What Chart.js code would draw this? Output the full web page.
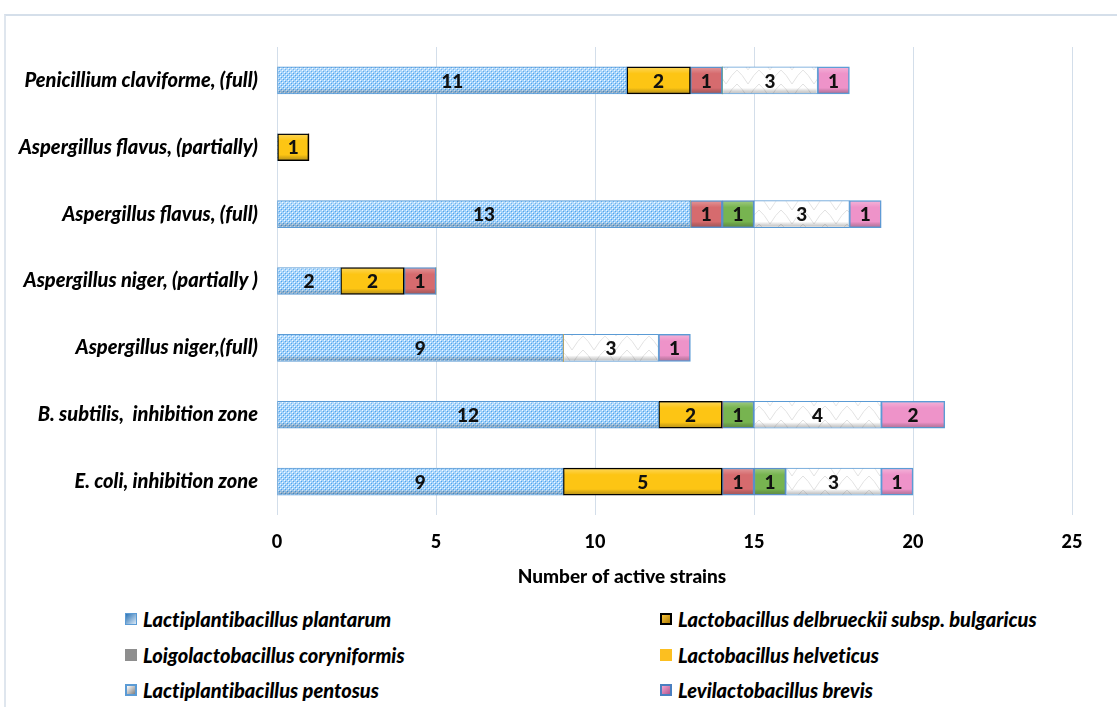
<!DOCTYPE html>
<html>
<head>
<meta charset="utf-8">
<script src="https://cdn.jsdelivr.net/npm/chart.js@4"></script>
<style>
  body { margin: 0; background: #fff; }
  #wrap { position: relative; width: 1117px; height: 707px; overflow: hidden; }
  #frame { position: absolute; left: 4px; top: 14px; right: -4px; bottom: -4px;
           border-top: 2px solid #d5dfea; border-left: 2px solid #dfe6ee; }
  #chart { position: absolute; left: 0; top: 0; }
  #legend { position: absolute; left: 0; top: 0; font: italic 900 20px Lato, sans-serif; color: #000;
            font-variant-ligatures: none; }
  .item { position: absolute; white-space: nowrap; display: flex; align-items: center; height: 24px; }
  .box { width: 12px; height: 12px; margin-right: 6px; box-sizing: border-box; }
</style>
</head>
<body>
<div id="wrap">
  <div id="frame"></div>
  <canvas id="chart" width="1117" height="600"></canvas>
  <div id="legend"></div>
</div>
<script>
// categories, top to bottom
const categories = [
  'Penicillium claviforme, (full)',
  'Aspergillus flavus, (partially)',
  'Aspergillus flavus, (full)',
  'Aspergillus niger, (partially )',
  'Aspergillus niger,(full)',
  'B. subtilis,  inhibition zone',
  'E. coli, inhibition zone'
];

const seriesNames = [
  'Lactiplantibacillus plantarum',
  'Lactobacillus delbrueckii subsp. bulgaricus',
  'Loigolactobacillus coryniformis',
  'Lactobacillus helveticus',
  'Lactiplantibacillus pentosus',
  'Levilactobacillus brevis'
];

const plantarum    = [11, 0, 13, 2, 9, 12, 9];
const delbrueckii  = [2, 1, 0, 2, 0, 2, 5];
const coryniformis = [1, 0, 1, 1, 0, 0, 1];
const helveticus   = [0, 0, 1, 0, 0, 1, 1];
const pentosus     = [3, 0, 3, 0, 3, 4, 3];
const brevis       = [1, 0, 1, 0, 1, 2, 1];

const xTicks = [0, 5, 10, 15, 20, 25];
const xTitle = 'Number of active strains';

// fill textures
function makePattern(w, h, draw) {
  const c = document.createElement('canvas');
  c.width = w; c.height = h;
  draw(c.getContext('2d'));
  return c.getContext('2d').createPattern(c, 'repeat');
}
const bluePattern = makePattern(4, 4, g => {
  g.fillStyle = '#a2d2fb'; g.fillRect(0, 0, 4, 4);
  g.fillStyle = '#f2f9ff'; g.fillRect(0, 0, 1, 1); g.fillRect(2, 2, 1, 1);
  g.fillStyle = '#4fa3ec'; g.fillRect(1, 1, 1, 1); g.fillRect(3, 3, 1, 1);
});
const whitePattern = makePattern(22, 14, g => {
  g.fillStyle = '#ffffff'; g.fillRect(0, 0, 22, 14);
  g.strokeStyle = '#e2e2e2'; g.lineWidth = 1;
  g.beginPath();
  g.moveTo(0, 14); g.quadraticCurveTo(6, 4, 11, 0);
  g.moveTo(11, 0); g.quadraticCurveTo(16, 4, 22, 14);
  g.stroke();
});

const fills   = [bluePattern, '#fdc514', '#d66b6e', '#77b450', whitePattern, '#ee93c9'];
const borders = ['#5b9bd5', '#000000', '#5b8fc9', '#5b8fc9', '#5b9bd5', '#5b9bd5'];
const widths  = [1, 1.5, 1.5, 1.5, 1, 1.5];
const values  = [plantarum, delbrueckii, coryniformis, helveticus, pentosus, brevis];

const datasets = seriesNames.map((name, i) => ({
  label: name,
  data: values[i],
  backgroundColor: fills[i],
  borderColor: borders[i],
  borderWidth: ctx => (ctx.raw ? widths[i] : 0),
  borderSkipped: false,
  barThickness: 27
}));

// 3D-ish shading over each segment
const bevel = {
  id: 'bevel',
  afterDatasetsDraw(chart) {
    const ctx = chart.ctx;
    chart.data.datasets.forEach((ds, i) => {
      chart.getDatasetMeta(i).data.forEach((bar, j) => {
        if (!ds.data[j]) return;
        const x0 = Math.min(bar.base, bar.x), w = Math.abs(bar.x - bar.base);
        const y0 = bar.y - bar.height / 2, h = bar.height;
        const g = ctx.createLinearGradient(0, y0, 0, y0 + h);
        g.addColorStop(0, 'rgba(255,255,255,0.3)');
        g.addColorStop(0.25, 'rgba(255,255,255,0)');
        g.addColorStop(0.78, 'rgba(0,0,0,0)');
        g.addColorStop(1, 'rgba(60,60,60,0.35)');
        ctx.save();
        ctx.fillStyle = g;
        ctx.fillRect(x0 + 1, y0 + 1, w - 2, h - 2);
        ctx.restore();
      });
    });
  }
};

const segmentLabels = {
  id: 'segmentLabels',
  afterDatasetsDraw(chart) {
    const ctx = chart.ctx;
    ctx.save();
    ctx.font = '900 19px Lato, sans-serif';
    ctx.fillStyle = '#111';
    ctx.textAlign = 'center';
    ctx.textBaseline = 'middle';
    chart.data.datasets.forEach((ds, i) => {
      chart.getDatasetMeta(i).data.forEach((bar, j) => {
        const v = ds.data[j];
        if (!v) return;
        const p = bar.getCenterPoint();
        ctx.fillText(v, p.x, p.y + 1);
      });
    });
    ctx.restore();
  }
};

// axis title sits left of centre in the original
const axisTitle = {
  id: 'axisTitle',
  afterDraw(chart) {
    const ctx = chart.ctx;
    ctx.save();
    ctx.font = '900 19px Lato, sans-serif';
    ctx.fillStyle = '#000';
    ctx.textAlign = 'center';
    ctx.textBaseline = 'middle';
    ctx.fillText(xTitle, 622, 577);
    ctx.restore();
  }
};

new Chart(document.getElementById('chart'), {
  type: 'bar',
  data: { labels: categories, datasets: datasets },
  options: {
    indexAxis: 'y',
    responsive: false,
    animation: false,
    layout: { padding: { top: 47, right: 45, left: 0, bottom: 0 } },
    plugins: { legend: { display: false }, tooltip: { enabled: false } },
    scales: {
      x: {
        stacked: true,
        min: 0,
        max: 25,
        afterBuildTicks: scale => { scale.ticks = xTicks.map(v => ({ value: v })); },
        afterFit: scale => { scale.height = 85; },
        grid: { color: '#d3deea', drawTicks: false },
        border: { display: false },
        ticks: { padding: 16, color: '#000', font: { family: 'Lato', size: 18, weight: '900' } }
      },
      y: {
        stacked: true,
        afterFit: scale => { scale.width = 277; },
        grid: { display: false, drawTicks: false },
        border: { display: false },
        ticks: { padding: 19, color: '#000', font: { family: 'Lato', size: 20, weight: '900', style: 'italic' } }
      }
    }
  },
  plugins: [bevel, segmentLabels, axisTitle]
});

// legend, two columns like the original
const legendBoxes = [
  'background:linear-gradient(135deg,#2e75b6,#dbe9f6);border:1px solid #5b9bd5',
  'background:linear-gradient(135deg,#f6c23a,#b07d05);border:2px solid #000',
  'background:#8e8e8e',
  'background:#fcbf20',
  'background:linear-gradient(135deg,#ffffff,#7f7f7f);border:2px solid #5b9bd5',
  'background:linear-gradient(135deg,#f3a5cf,#b3558e);border:2px solid #4a7fc0'
];
const legendPos = [[125, 607], [660, 607], [125, 643], [660, 643], [125, 678], [660, 678]];
const legendEl = document.getElementById('legend');
seriesNames.forEach((name, i) => {
  const it = document.createElement('div');
  it.className = 'item';
  it.style.left = legendPos[i][0] + 'px';
  it.style.top = legendPos[i][1] + 'px';
  it.innerHTML = '<span class="box" style="' + legendBoxes[i] + '"></span>' + name;
  legendEl.appendChild(it);
});
</script>
</body>
</html>
